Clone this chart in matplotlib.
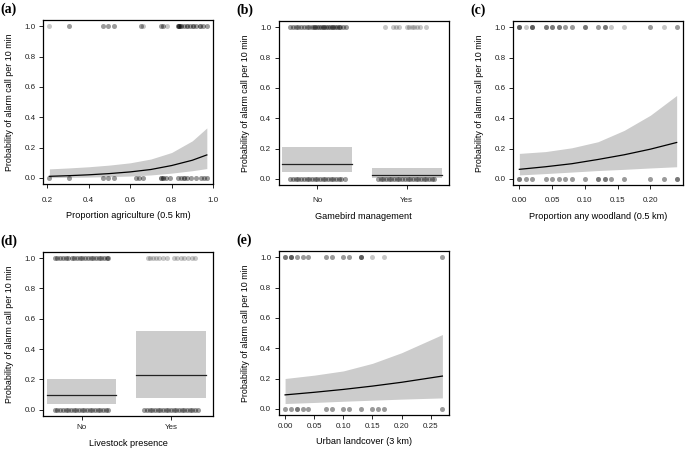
import matplotlib
matplotlib.use("Agg")
import matplotlib.pyplot as plt
import numpy as np

plt.rcParams['font.family'] = ['Liberation Sans', 'DejaVu Sans']

# ---- data ----
# (a) proportion agriculture
agri_fit_x = [0.21, 0.30, 0.40, 0.50, 0.60, 0.70, 0.80, 0.90, 0.97]
agri_fit = [0.011, 0.015, 0.021, 0.029, 0.040, 0.056, 0.082, 0.117, 0.152]
agri_hi = [0.060, 0.066, 0.074, 0.085, 0.100, 0.125, 0.168, 0.245, 0.330]
agri_lo = [0.002, 0.004, 0.006, 0.009, 0.013, 0.020, 0.032, 0.048, 0.062]
agri_pts1 = [0.21, 0.305, 0.47, 0.495, 0.52, 0.65, 0.66, 0.75, 0.76, 0.78,
             0.83, 0.835, 0.845, 0.86, 0.875, 0.89, 0.905, 0.92, 0.935, 0.95, 0.97]
agri_n1 = [1, 2, 2, 2, 2, 2, 1, 2, 2, 1, 3, 4, 3, 2, 3, 2, 3, 2, 3, 2, 2]
agri_pts0 = [0.21, 0.305, 0.47, 0.495, 0.52, 0.63, 0.645, 0.66, 0.75, 0.76, 0.775,
             0.79, 0.83, 0.845, 0.86, 0.875, 0.895, 0.92, 0.94, 0.955, 0.97]
agri_n0 = [2, 2, 2, 2, 2, 2, 2, 2, 3, 3, 2, 2, 2, 2, 3, 2, 2, 2, 2, 2, 2]

# (b) gamebird management
game_cats = ['No', 'Yes']
game_fit = [0.098, 0.025]
game_hi = [0.208, 0.075]
game_lo = [0.045, 0.008]
game_no1 = [-0.30, -0.27, -0.24, -0.21, -0.18, -0.15, -0.12, -0.09, -0.06, -0.04,
            -0.02, 0.0, 0.02, 0.04, 0.06, 0.08, 0.10, 0.12, 0.14, 0.16, 0.18,
            0.20, 0.22, 0.24, 0.26, 0.29, 0.32]
game_yes1 = [-0.24, -0.15, -0.12, -0.09, 0.0, 0.03, 0.06, 0.08, 0.12, 0.15, 0.22]
game_no0 = [-0.30, -0.27, -0.24, -0.21, -0.18, -0.15, -0.12, -0.09, -0.06, -0.03,
            0.0, 0.03, 0.06, 0.09, 0.12, 0.15, 0.18, 0.21, 0.24, 0.27, 0.31]
game_yes0 = [-0.32, -0.29, -0.26, -0.23, -0.20, -0.17, -0.14, -0.11, -0.08, -0.05,
             -0.02, 0.01, 0.04, 0.07, 0.10, 0.13, 0.16, 0.19, 0.22, 0.25, 0.28, 0.31]

# (c) proportion any woodland
wood_fit_x = [0.00, 0.04, 0.08, 0.12, 0.16, 0.20, 0.24]
wood_fit = [0.063, 0.080, 0.100, 0.128, 0.159, 0.196, 0.240]
wood_hi = [0.168, 0.180, 0.205, 0.245, 0.320, 0.420, 0.550]
wood_lo = [0.026, 0.035, 0.045, 0.055, 0.063, 0.072, 0.080]
wood_pts1 = [0.00, 0.01, 0.02, 0.04, 0.05, 0.06, 0.07, 0.08, 0.10, 0.12, 0.13, 0.14, 0.16, 0.20, 0.22, 0.24]
wood_n1 = [4, 1, 4, 3, 3, 3, 2, 2, 3, 2, 3, 1, 1, 2, 1, 2]
wood_pts0 = [0.00, 0.01, 0.02, 0.04, 0.05, 0.06, 0.07, 0.08, 0.10, 0.12, 0.13, 0.14, 0.16, 0.20, 0.22, 0.24]
wood_n0 = [3, 2, 2, 2, 2, 2, 2, 2, 2, 3, 3, 2, 2, 2, 2, 3]

# (d) livestock presence
stock_cats = ['No', 'Yes']
stock_fit = [0.096, 0.230]
stock_hi = [0.205, 0.520]
stock_lo = [0.040, 0.075]
stock_no1 = [-0.30, -0.27, -0.24, -0.21, -0.18, -0.15, -0.11, -0.08, -0.05, -0.02,
             0.01, 0.04, 0.07, 0.10, 0.13, 0.16, 0.19, 0.22, 0.25, 0.28, 0.30]
stock_yes1 = [-0.26, -0.23, -0.20, -0.17, -0.13, -0.09, -0.04, 0.03, 0.07, 0.11,
              0.15, 0.19, 0.23, 0.27]
stock_no0 = [-0.30, -0.27, -0.24, -0.21, -0.18, -0.15, -0.12, -0.09, -0.06, -0.03,
             0.0, 0.03, 0.06, 0.09, 0.12, 0.15, 0.18, 0.21, 0.24, 0.27, 0.30]
stock_yes0 = [-0.30, -0.27, -0.24, -0.21, -0.18, -0.15, -0.12, -0.09, -0.06, -0.03,
              0.0, 0.03, 0.06, 0.09, 0.12, 0.15, 0.18, 0.21, 0.24, 0.27, 0.30]

# (e) urban landcover
urban_fit_x = [0.00, 0.05, 0.10, 0.15, 0.20, 0.27]
urban_fit = [0.092, 0.109, 0.128, 0.150, 0.175, 0.216]
urban_hi = [0.200, 0.222, 0.250, 0.300, 0.370, 0.490]
urban_lo = [0.035, 0.042, 0.050, 0.057, 0.064, 0.072]
urban_pts1 = [0.00, 0.01, 0.02, 0.03, 0.04, 0.07, 0.08, 0.10, 0.11, 0.13, 0.15, 0.17, 0.27]
urban_n1 = [3, 4, 2, 2, 2, 2, 2, 2, 2, 4, 1, 1, 2]
urban_pts0 = [0.00, 0.01, 0.02, 0.03, 0.04, 0.07, 0.08, 0.10, 0.11, 0.13, 0.15, 0.16, 0.17, 0.27]
urban_n0 = [2, 2, 3, 2, 2, 2, 2, 2, 2, 2, 2, 2, 2, 2]

BAND = '#cccccc'
PT_ALPHA = 0.22


def dots(ax, xs, y, counts=None):
    # stack transparent dots, overlap gives the darker ones
    if counts is None:
        counts = [1] * len(xs)
    for x, n in zip(xs, counts):
        for _ in range(n):
            ax.scatter([x], [y], s=13, color='black', alpha=PT_ALPHA, lw=0, zorder=3)


def style(ax, xlabel, label, xpad=6):
    ax.set_ylim(-0.04, 1.04)
    ax.set_yticks([0.0, 0.2, 0.4, 0.6, 0.8, 1.0])
    ax.set_yticklabels(['0.0', '0.2', '0.4', '0.6', '0.8', '1.0'])
    ax.tick_params(direction='out', length=3, width=0.6,
                   labelsize=5.8, colors='black', labelcolor='#222222')
    ax.tick_params(axis='x', pad=xpad)
    ax.tick_params(axis='y', pad=2.5)
    for sp in ax.spines.values():
        sp.set_linewidth(0.9)
    ax.set_xlabel(xlabel, fontsize=6.6, labelpad=5.5)
    ax.set_ylabel('Probability of alarm call per 10 min', fontsize=6.4, labelpad=7.5)
    ax.text(-0.25, 1.068, label, transform=ax.transAxes, fontsize=10,
            fontweight='bold', family='Liberation Serif', ha='left', va='center')


def continuous(ax, fx, fit, lo, hi, p1, n1, p0, n0):
    ax.fill_between(fx, lo, hi, color=BAND, lw=0, zorder=1)
    ax.plot(fx, fit, color='black', lw=0.9, zorder=2)
    dots(ax, p1, 1.0, n1)
    dots(ax, p0, 0.0, n0)


def categorical(ax, cats, fit, lo, hi, no1, yes1, no0, yes0):
    pos = np.arange(1, len(cats) + 1)
    for p, f, l, h in zip(pos, fit, lo, hi):
        ax.fill_between([p - 0.39, p + 0.39], [l, l], [h, h], color=BAND, lw=0, zorder=1)
        ax.plot([p - 0.39, p + 0.39], [f, f], color='#222222', lw=0.9, zorder=2)
    dots(ax, [1 + d for d in no1], 1.0, [2] * len(no1))
    dots(ax, [2 + d for d in yes1], 1.0)
    dots(ax, [1 + d for d in no0], 0.0, [2] * len(no0))
    dots(ax, [2 + d for d in yes0], 0.0, [2] * len(yes0))
    ax.set_xlim(0.57, 2.47)
    ax.set_xticks(pos)
    ax.set_xticklabels(cats)


fig = plt.figure(figsize=(6.85, 4.5), dpi=100)
W, H = 0.248, 0.364
ax_a = fig.add_axes([0.063, 0.591, W, H])
ax_b = fig.add_axes([0.407, 0.589, W, H])
ax_c = fig.add_axes([0.749, 0.589, W, H])
ax_d = fig.add_axes([0.063, 0.076, W, H])
ax_e = fig.add_axes([0.407, 0.078, W, H])

continuous(ax_a, agri_fit_x, agri_fit, agri_lo, agri_hi, agri_pts1, agri_n1, agri_pts0, agri_n0)
ax_a.set_xlim(0.18, 1.0)
ax_a.set_xticks([0.2, 0.4, 0.6, 0.8, 1.0])
ax_a.set_xticklabels(['0.2', '0.4', '0.6', '0.8', '1.0'])
style(ax_a, 'Proportion agriculture (0.5 km)', '(a)')

categorical(ax_b, game_cats, game_fit, game_lo, game_hi, game_no1, game_yes1, game_no0, game_yes0)
style(ax_b, 'Gamebird management', '(b)')

continuous(ax_c, wood_fit_x, wood_fit, wood_lo, wood_hi, wood_pts1, wood_n1, wood_pts0, wood_n0)
ax_c.set_xlim(-0.0096, 0.2496)
ax_c.set_xticks([0.0, 0.05, 0.10, 0.15, 0.20])
ax_c.set_xticklabels(['0.00', '0.05', '0.10', '0.15', '0.20'])
style(ax_c, 'Proportion any woodland (0.5 km)', '(c)')

categorical(ax_d, stock_cats, stock_fit, stock_lo, stock_hi, stock_no1, stock_yes1, stock_no0, stock_yes0)
style(ax_d, 'Livestock presence', '(d)', xpad=3)

continuous(ax_e, urban_fit_x, urban_fit, urban_lo, urban_hi, urban_pts1, urban_n1, urban_pts0, urban_n0)
ax_e.set_xlim(-0.0108, 0.2808)
ax_e.set_xticks([0.0, 0.05, 0.10, 0.15, 0.20, 0.25])
ax_e.set_xticklabels(['0.00', '0.05', '0.10', '0.15', '0.20', '0.25'])
style(ax_e, 'Urban landcover (3 km)', '(e)', xpad=2.5)

fig.savefig('out.png', dpi=100)
